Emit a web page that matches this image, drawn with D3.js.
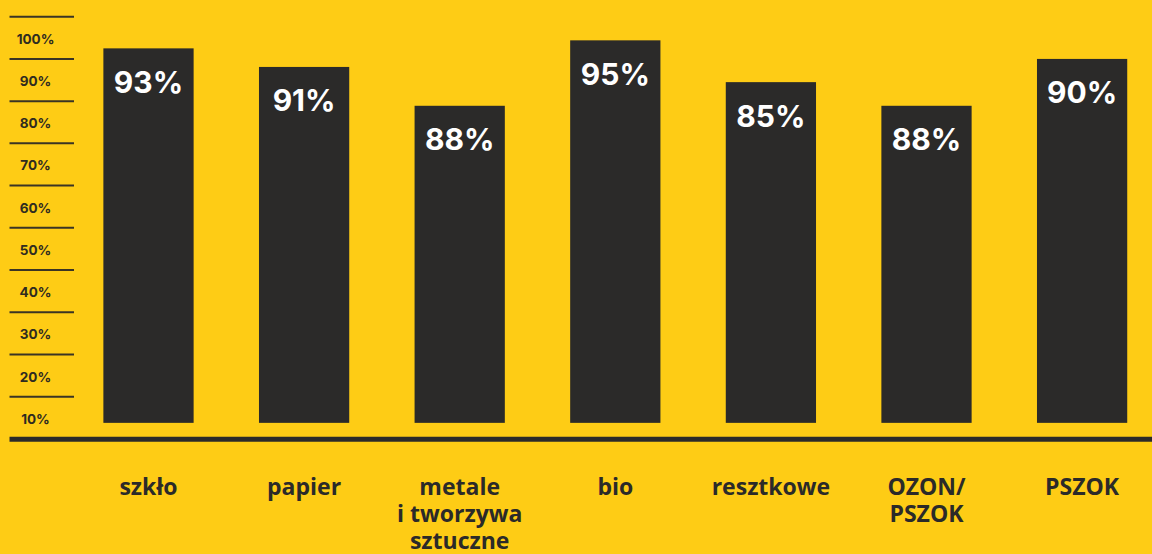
<!DOCTYPE html>
<html>
<head>
<meta charset="utf-8">
<script src="https://cdn.jsdelivr.net/npm/d3@7"></script>
<style>
  html, body { margin: 0; padding: 0; background: #FECC15; }
  svg { display: block; }
</style>
</head>
<body>
<div id="chart"></div>
<script>
// categories (multi-line labels split by "\n")
var categories = ["szkło", "papier", "metale\ni tworzywa\nsztuczne", "bio", "resztkowe", "OZON/\nPSZOK", "PSZOK"];
// bar heights as drawn (axis units, %)
var barHeights = [92.5, 88.1, 78.9, 94.4, 84.5, 78.9, 90.0];
// values printed on the bars
var barLabels = ["93%", "91%", "88%", "95%", "85%", "88%", "90%"];
// y axis ticks
var tickValues = [100, 90, 80, 70, 60, 50, 40, 30, 20, 10];
var tickLabels = ["100%", "90%", "80%", "70%", "60%", "50%", "40%", "30%", "20%", "10%"];

var width = 1152, height = 554;
var dark = "#2B2A29";
var barBase = 3.8; // bars float a little above the baseline

var svg = d3.select("#chart")
  .append("svg")
  .attr("width", width)
  .attr("height", height);

svg.append("rect")
  .attr("width", width)
  .attr("height", height)
  .attr("fill", "#FECC15");

// scales
var yScale = d3.scaleLinear()
  .domain([0, 100])
  .range([438.9, 16.7]);

var xScale = d3.scaleBand()
  .domain(categories)
  .range([70.7, 1159.9])
  .paddingInner(0.42)
  .paddingOuter(0.21);

// tick lines on the left
svg.selectAll("line.tick")
  .data(tickValues)
  .enter().append("line")
  .attr("class", "tick")
  .attr("x1", 9.5)
  .attr("x2", 74)
  .attr("y1", d => yScale(d))
  .attr("y2", d => yScale(d))
  .attr("stroke", "#3a3424")
  .attr("stroke-width", 2);

// tick labels sit between the lines
svg.selectAll("text.ylab")
  .data(tickValues)
  .enter().append("text")
  .attr("class", "ylab")
  .attr("x", 35.5)
  .attr("y", d => yScale(d - 5) + 6)
  .attr("text-anchor", "middle")
  .attr("font-family", "Inter, 'Liberation Sans', sans-serif")
  .attr("font-weight", 700)
  .attr("font-size", 13.5)
  .attr("fill", "#2f2b20")
  .text((d, i) => tickLabels[i]);

// bars
svg.selectAll("rect.bar")
  .data(categories)
  .enter().append("rect")
  .attr("class", "bar")
  .attr("x", d => xScale(d))
  .attr("width", xScale.bandwidth())
  .attr("y", (d, i) => yScale(barHeights[i]))
  .attr("height", (d, i) => yScale(barBase) - yScale(barHeights[i]))
  .attr("fill", dark);

// value labels
svg.selectAll("text.val")
  .data(categories)
  .enter().append("text")
  .attr("class", "val")
  .attr("x", d => xScale(d) + xScale.bandwidth() / 2)
  .attr("y", (d, i) => yScale(barHeights[i]) + 44.5)
  .attr("text-anchor", "middle")
  .attr("font-family", "Inter, 'Liberation Sans', sans-serif")
  .attr("font-weight", 700)
  .attr("font-size", 30)
  .attr("fill", "#ffffff")
  .text((d, i) => barLabels[i]);

// thick baseline
svg.append("line")
  .attr("x1", 9.5)
  .attr("x2", width)
  .attr("y1", yScale(0) + 0.3)
  .attr("y2", yScale(0) + 0.3)
  .attr("stroke", dark)
  .attr("stroke-width", 5);

// category labels
var catText = svg.selectAll("text.cat")
  .data(categories)
  .enter().append("text")
  .attr("class", "cat")
  .attr("text-anchor", "middle")
  .attr("font-family", "'Open Sans', Roboto, sans-serif")
  .attr("font-weight", 700)
  .attr("font-size", 23)
  .attr("fill", dark);

catText.selectAll("tspan")
  .data(d => d.split("\n").map(s => ({ s: s, c: d })))
  .enter().append("tspan")
  .attr("x", d => xScale(d.c) + xScale.bandwidth() / 2)
  .attr("y", (d, i) => 495 + i * 27)
  .text(d => d.s);
</script>
</body>
</html>
